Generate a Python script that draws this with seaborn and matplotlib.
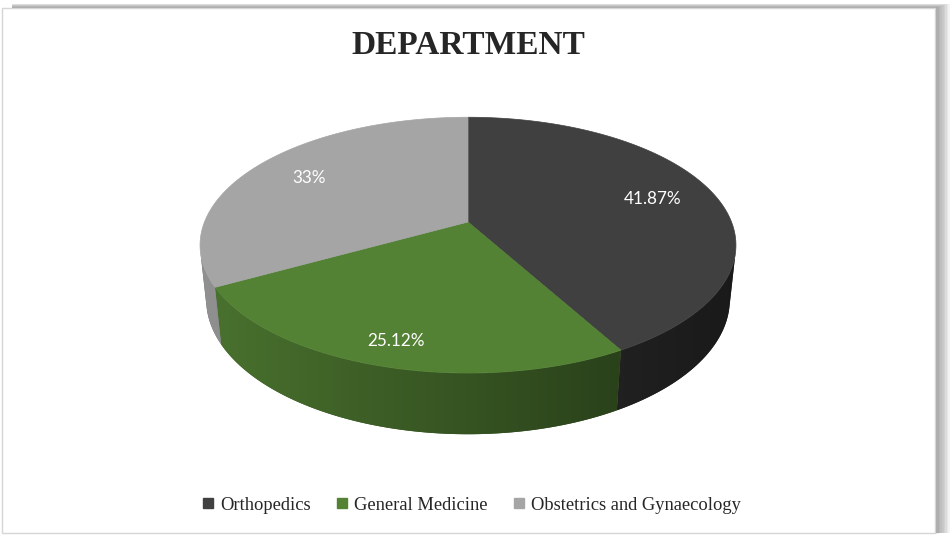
import numpy as np
import pandas as pd
import seaborn as sns
import matplotlib
matplotlib.use("Agg")
import matplotlib.pyplot as plt
from matplotlib.patches import Polygon, Rectangle
from matplotlib.lines import Line2D

departments = ["Orthopedics", "General Medicine", "Obstetrics and Gynaecology"]
shares = [41.87, 25.12, 33]
top_colors = ["#404040", "#548235", "#a5a5a5"]

# page and 3d view settings
W, H = 953, 543
cx, cy = 468, 222          # where the pie centre lands
tilt = np.radians(28)
dist = 4.88
focal = 1286
depth = 0.236
label_r = [0.75, 0.85, 0.75]

sns.set_theme(style="white")
plt.rcParams["font.family"] = ["Liberation Serif", "DejaVu Serif"]

df = pd.DataFrame({"dept": departments, "share": shares})
frac = df["share"] / df["share"].sum()
df["end"] = 90 - 360 * frac.cumsum()
df["start"] = df["end"] + 360 * frac
pal = sns.color_palette(top_colors)


def project(t_deg, r=1.0, z=0.0):
    t = np.radians(t_deg)
    x, y = r * np.cos(t), r * np.sin(t)
    s, c = np.sin(tilt), np.cos(tilt)
    yc = s * y + c * z
    zc = c * y - s * z + dist
    return cx + focal * x / zc, cy - focal * yc / zc


fig = plt.figure(figsize=(9.53, 5.43), dpi=100)
ax = fig.add_axes([0, 0, 1, 1])
ax.set_xlim(0, W)
ax.set_ylim(H, 0)
ax.axis("off")

# frame with a soft shadow on the right / top
for i in range(1, 11):
    ax.add_patch(Rectangle((12, 8 - i * 0.45), 922 + i * 1.6, 526 + i * 0.3,
                           color="k", alpha=0.05, lw=0, zorder=0))
ax.add_patch(Rectangle((2, 8), 933, 525, facecolor="white",
                       edgecolor="#d6d6d6", lw=1, zorder=1))

# side wall (only the part facing the camera), shaded left to right
a = np.degrees(np.arcsin(1 / (dist * np.cos(tilt))))
vis_lo, vis_hi = -180 + a, -a
x_left, _ = project(vis_lo)
x_right, _ = project(vis_hi)
ramp = np.linspace(0.88, 0.40, 256)
for i, row in df.iterrows():
    lo, hi = max(row["end"], vis_lo), min(row["start"], vis_hi)
    if lo >= hi:
        continue
    ts = np.linspace(lo, hi, 200)
    xt, yt = project(ts)
    xb, yb = project(ts[::-1], z=-depth)
    verts = list(zip(xt, yt)) + list(zip(xb, yb))
    side = Polygon(verts, facecolor=np.array(pal[i]) * 0.6, edgecolor="none",
                   zorder=2)
    ax.add_patch(side)
    grad = np.array(pal[i])[None, None, :] * ramp[None, :, None]
    im = ax.imshow(grad, extent=(x_left, x_right, 500, 0), aspect="auto",
                   interpolation="bilinear", zorder=2.1)
    im.set_clip_path(side)

# top face
for i, row in df.iterrows():
    ts = np.linspace(row["start"], row["end"], 200)
    xs, ys = project(ts)
    verts = [(cx, cy)] + list(zip(xs, ys))
    ax.add_patch(Polygon(verts, facecolor=pal[i], edgecolor=pal[i], lw=0.5,
                         zorder=3))
    mid = (row["start"] + row["end"]) / 2
    lx, ly = project(mid, r=label_r[i])
    ax.text(lx, ly, f"{row['share']:g}%", color="white", ha="center",
            va="center", fontsize=12.3, family=["Lato", "DejaVu Sans"], zorder=4)

ax.set_xlim(0, W)
ax.set_ylim(H, 0)

ax.text(468, 45, "DEPARTMENT", ha="center", va="center", fontsize=24,
        fontweight="bold", zorder=4)

handles = [Line2D([], [], marker="s", linestyle="", color=pal[i],
                  markersize=7.5) for i in range(len(departments))]
fig.legend(handles, departments, loc="center", ncol=3, frameon=False,
           bbox_to_anchor=(471 / W, 1 - 505 / H), prop={"size": 13.3},
           handlelength=0.7, handletextpad=0.3, columnspacing=1.35)

fig.savefig("out.png", dpi=100)
